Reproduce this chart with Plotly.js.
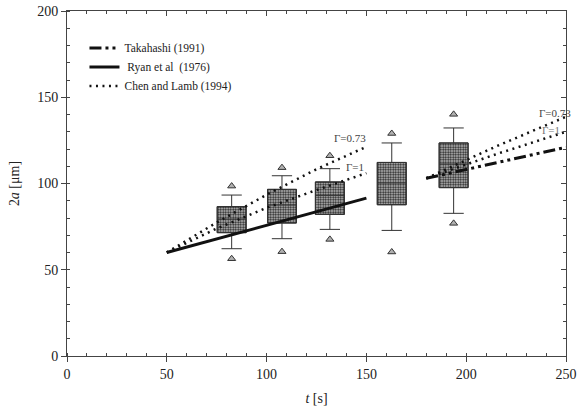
<!DOCTYPE html>
<html>
<head>
<meta charset="utf-8">
<script src="https://cdn.plot.ly/plotly-3.0.1.min.js"></script>
<style>html,body{margin:0;padding:0;background:#fff;}#chart{width:581px;height:416px;}</style>
</head>
<body>
<div id="chart"></div>
<script>
// Box-plot statistics (t in s, 2a in μm)
var boxT        = [82.5, 107.7, 131.7, 162.7, 193.7];
var boxQ1       = [71.5, 77.1, 82.1, 87.7, 97.6];
var boxMedian   = [79.4, 87.5, 93.1, 100.3, 111.3];
var boxQ3       = [86.6, 96.6, 100.9, 112.2, 123.5];
var boxLow      = [62.2, 68.0, 73.4, 72.8, 82.7];
var boxHigh     = [93.3, 104.5, 108.6, 123.5, 132.2];
var outHigh     = [98.5, 109.2, 116.1, 129.0, 140.1];
var outLow      = [56.4, 60.5, 67.6, 60.3, 76.9];

// Model curves
var takT  = [180, 250];
var takY  = [103, 121];
var ryanT = [50, 150];
var ryanY = [60, 91.5];
var chenT1     = [50, 75, 100, 125, 150];
var chen073Y1  = [60, 77.4, 93.5, 108.3, 121.3];
var chen1Y1    = [60, 73.9, 85.9, 96.2, 106];
var chenT2     = [180, 215, 250];
var chen073Y2  = [103, 121.5, 138.7];
var chen1Y2    = [103, 117, 130];

var xTicks = [0, 50, 100, 150, 200, 250];
var yTicks = [0, 50, 100, 150, 200];

var boxHeight = boxQ3.map(function(v, i){ return v - boxQ1[i]; });

var serif = 'Liberation Serif, Times New Roman, serif';
var dotDash = '2px,4.5px';

var traces = [
  { type:'bar', x: boxT, base: boxQ1, y: boxHeight, width: 14.5,
    marker:{ color:'#ffffff', line:{color:'#222', width:1},
      pattern:{ shape:'.', fgcolor:'#222', bgcolor:'#c8c8c8', size:2.5, solidity:0.5 } },
    showlegend:false, hoverinfo:'skip' },
  { type:'box', x: boxT, q1: boxQ1, median: boxMedian, q3: boxQ3,
    lowerfence: boxLow, upperfence: boxHigh, width: 14.5, whiskerwidth: 0.7,
    boxpoints:false, fillcolor:'rgba(0,0,0,0)', line:{color:'#333', width:1},
    showlegend:false, hoverinfo:'skip' },
  { type:'scatter', mode:'markers', x: boxT.concat(boxT), y: outHigh.concat(outLow),
    marker:{ symbol:'triangle-up', size:7, color:'#b0b0b0', line:{color:'#333', width:1} },
    showlegend:false, hoverinfo:'skip' },
  { type:'scatter', mode:'lines', name:'Takahashi (1991)', x: takT, y: takY,
    line:{ color:'#111', width:3, dash:'12px,4px,3px,4px,3px,4px' } },
  { type:'scatter', mode:'lines', name:' Ryan et al  (1976)', x: ryanT, y: ryanY,
    line:{ color:'#111', width:3 } },
  { type:'scatter', mode:'lines', name:'Chen and Lamb (1994)', x: chenT1, y: chen073Y1,
    line:{ color:'#111', width:2.5, dash: dotDash }, legendgroup:'chen' },
  { type:'scatter', mode:'lines', x: chenT1, y: chen1Y1, showlegend:false,
    line:{ color:'#111', width:2.5, dash: dotDash }, legendgroup:'chen' },
  { type:'scatter', mode:'lines', x: chenT2, y: chen073Y2, showlegend:false,
    line:{ color:'#111', width:2.5, dash: dotDash }, legendgroup:'chen' },
  { type:'scatter', mode:'lines', x: chenT2, y: chen1Y2, showlegend:false,
    line:{ color:'#111', width:2.5, dash: dotDash }, legendgroup:'chen' },
  { type:'scatter', mode:'markers', x:[null], y:[null], xaxis:'x2', yaxis:'y2',
    showlegend:false, hoverinfo:'skip' }
];

var axisCommon = {
  showgrid:false, zeroline:false, showline:true, linecolor:'#444', linewidth:1,
  tickfont:{ family: serif, size:14, color:'#222' }, tickcolor:'#444'
};

var layout = {
  width:581, height:416,
  margin:{ l:67, r:15, t:11, b:60 },
  paper_bgcolor:'#fff', plot_bgcolor:'#fff',
  showlegend:true,
  legend:{ x:0.035, y:0.935, xanchor:'left', yanchor:'top', bgcolor:'rgba(0,0,0,0)',
    font:{ family: serif, size:11.5, color:'#222' }, tracegroupgap:0, itemwidth:30 },
  xaxis: Object.assign({}, axisCommon, {
    range:[0,250], tickvals: xTicks, ticks:'outside', ticklen:5,
    minor:{ dtick:10, ticks:'inside', ticklen:3, tickcolor:'#444' },
    title:{ text:'<i>t</i> [s]', font:{ family: serif, size:14, color:'#222' }, standoff:12 }
  }),
  yaxis: Object.assign({}, axisCommon, {
    range:[0,200], tickvals: yTicks, ticks:'outside', ticklen:5,
    minor:{ dtick:10, ticks:'inside', ticklen:3, tickcolor:'#444' },
    title:{ text:'2<i>a</i> [μm]', font:{ family: serif, size:14, color:'#222' }, standoff:14 }
  }),
  xaxis2: { overlaying:'x', side:'top', range:[0,250], tickvals: xTicks, ticks:'inside',
    ticklen:5, tickcolor:'#444', showticklabels:false, showline:true, linecolor:'#444',
    showgrid:false, zeroline:false,
    minor:{ dtick:10, ticks:'inside', ticklen:3, tickcolor:'#444' } },
  yaxis2: { overlaying:'y', side:'right', range:[0,200], tickvals: yTicks, ticks:'inside',
    ticklen:5, tickcolor:'#444', showticklabels:false, showline:true, linecolor:'#444',
    showgrid:false, zeroline:false,
    minor:{ dtick:10, ticks:'inside', ticklen:3, tickcolor:'#444' } },
  annotations:[
    { x:141.8, y:126.4, text:'Γ=0.73', showarrow:false, font:{ family: serif, size:11, color:'#444' } },
    { x:144.3, y:109.6, text:'Γ=1', showarrow:false, font:{ family: serif, size:11, color:'#444' } },
    { x:244.5, y:141.0, text:'Γ=0.73', showarrow:false, font:{ family: serif, size:11, color:'#444' } },
    { x:242.5, y:131.0, text:'Γ=1', showarrow:false, font:{ family: serif, size:11, color:'#777' } }
  ]
};

Plotly.newPlot('chart', traces, layout, { displayModeBar:false, staticPlot:true });
</script>
</body>
</html>
